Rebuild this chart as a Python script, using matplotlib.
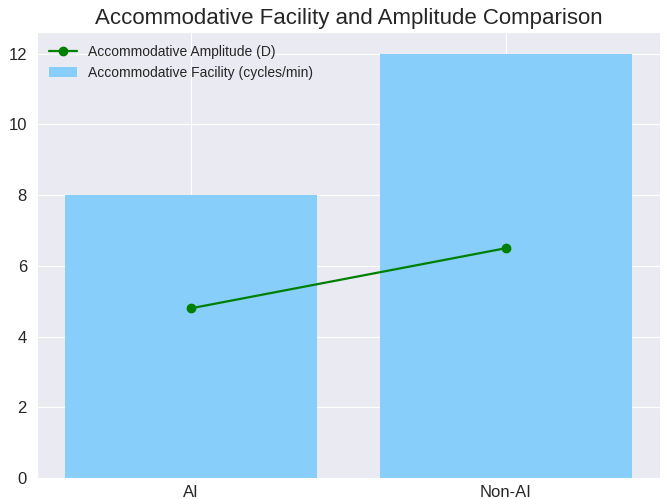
import matplotlib
matplotlib.use("Agg")
import matplotlib.pyplot as plt
import seaborn as sns

categories = ["AI", "Non-AI"]
facility = [8, 12]
amplitude = [4.8, 6.5]

sns.set_style("darkgrid")
plt.rcParams['font.family'] = ['Liberation Sans', 'DejaVu Sans']

fig, ax = plt.subplots(figsize=(6.67, 4.99), dpi=100)
x = list(range(len(categories)))
ax.bar(x, facility, width=0.8, color="#87CEFA", linewidth=0,
       label="Accommodative Facility (cycles/min)")
ax.plot(x, amplitude, color="green", marker="o", markersize=6, linewidth=1.6,
        label="Accommodative Amplitude (D)")
ax.set_xticks(x)
ax.set_xticklabels(categories)
ax.tick_params(labelsize=12)
ax.tick_params(axis="x", pad=1.5)
ax.set_title("Accommodative Facility and Amplitude Comparison", fontsize=16)
ax.legend(loc="upper left", frameon=False, fontsize=10)
fig.subplots_adjust(left=0.055, right=0.99, top=0.935, bottom=0.042)
fig.savefig("out.png", dpi=100)
